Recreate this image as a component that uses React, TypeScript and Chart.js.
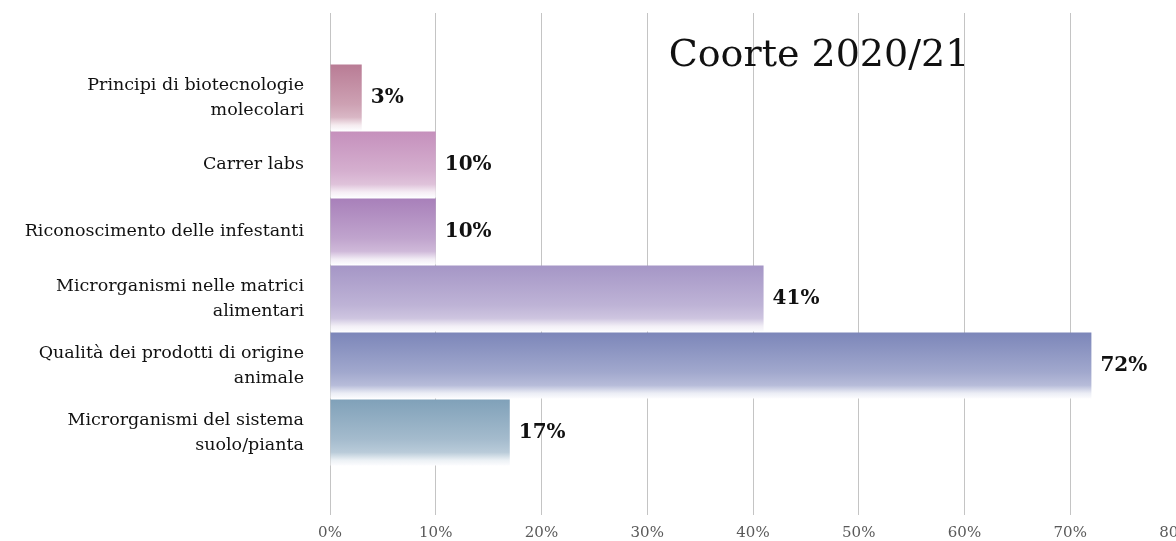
import React, { useEffect, useRef } from "react";
import { Chart, registerables } from "chart.js";

Chart.register(...registerables);

const categories: string[][] = [
  ["Principi di biotecnologie", "molecolari"],
  ["Carrer labs"],
  ["Riconoscimento delle infestanti"],
  ["Microrganismi nelle matrici", "alimentari"],
  ["Qualità dei prodotti di origine", "animale"],
  ["Microrganismi del sistema", "suolo/pianta"],
];
const values: number[] = [3, 10, 10, 41, 72, 17];
const barColors: string[] = ["#b97c95", "#c590bc", "#a880ba", "#a596c6", "#7c86b9", "#80a1b9"];
const titleText = "Coorte 2020/21";
const xMin = 0;
const xMax = 80;
const xStep = 10;

const SERIF = "'DejaVu Serif', serif";
const GRID = "#c4c4c4";

function hexToRgb(h: string) {
  const n = parseInt(h.slice(1), 16);
  return [(n >> 16) & 255, (n >> 8) & 255, n & 255];
}
function mix(h: string, t: number) {
  const [r, g, b] = hexToRgb(h);
  const m = (c: number) => Math.round(c + (255 - c) * t);
  return `rgb(${m(r)},${m(g)},${m(b)})`;
}

export default function App() {
  const ref = useRef<HTMLCanvasElement | null>(null);
  useEffect(() => {
    document.body.style.margin = "0";
    const canvas = ref.current!;
    const gridExtend = {
      id: "gridExtend",
      beforeDatasetsDraw(chart: any) {
        const ctx = chart.ctx;
        const xs = chart.scales.x;
        ctx.save();
        ctx.strokeStyle = GRID;
        ctx.lineWidth = 1;
        xs.ticks.forEach((t: any) => {
          const raw = xs.getPixelForValue(t.value);
          const px = Math.round(raw - 0.5) + 0.5;
          ctx.beginPath();
          ctx.moveTo(px, 13);
          ctx.lineTo(px, chart.chartArea.top + 1);
          ctx.stroke();
        });
        ctx.restore();
      },
    };
    const labelPlugin = {
      id: "valueLabels",
      afterDatasetsDraw(chart: any) {
        const ctx = chart.ctx;
        const meta = chart.getDatasetMeta(0);
        ctx.save();
        ctx.font = `bold 20px ${SERIF}`;
        ctx.fillStyle = "#111";
        ctx.textAlign = "left";
        ctx.textBaseline = "middle";
        meta.data.forEach((bar: any, i: number) => {
          ctx.fillText(values[i] + "%", bar.x + 9, bar.y);
        });
        ctx.restore();
      },
    };
    const titlePlugin = {
      id: "innerTitle",
      afterDraw(chart: any) {
        const ctx = chart.ctx;
        ctx.save();
        ctx.font = `38px ${SERIF}`;
        ctx.fillStyle = "#111";
        ctx.textAlign = "center";
        ctx.textBaseline = "middle";
        ctx.fillText(titleText, 819, 56);
        ctx.restore();
      },
    };
    const chart = new Chart(canvas, {
      type: "bar",
      data: {
        labels: categories,
        datasets: [
          {
            data: values,
            categoryPercentage: 1,
            barPercentage: 0.985,
            borderWidth: 0,
            backgroundColor: (c: any) => {
              const i = c.dataIndex;
              const base = barColors[i % barColors.length];
              const ch = c.chart;
              if (!ch.chartArea || i === undefined) return base;
              const yc = ch.scales.y.getPixelForValue(i);
              const g = ch.ctx.createLinearGradient(0, yc - 33, 0, yc + 33);
              g.addColorStop(0, base);
              g.addColorStop(0.6, mix(base, 0.28));
              g.addColorStop(0.8, mix(base, 0.45));
              g.addColorStop(0.92, mix(base, 0.85));
              g.addColorStop(1, "rgb(252,252,254)");
              return g;
            },
          },
        ],
      },
      options: {
        indexAxis: "y",
        responsive: false,
        animation: false,
        layout: { padding: { top: 64, right: 30, left: 0, bottom: 0 } },
        plugins: { legend: { display: false }, tooltip: { enabled: false } },
        scales: {
          x: {
            type: "linear",
            min: xMin,
            max: xMax,
            border: { display: false },
            grid: { color: GRID, lineWidth: 1, tickLength: 49, drawTicks: true },
            ticks: {
              stepSize: xStep,
              padding: 9,
              color: "#595959",
              font: { family: SERIF, size: 15 },
              callback: (v: any) => v + "%",
            },
            afterFit: (s: any) => {
              s.height = 75;
            },
          },
          y: {
            type: "category",
            offset: true,
            border: { display: false },
            grid: { display: false, drawTicks: false },
            ticks: {
              padding: 26,
              color: "#111",
              font: { family: SERIF, size: 17.5, lineHeight: 1.43 },
            },
            afterFit: (s: any) => {
              s.width = 330;
            },
          },
        },
      } as any,
      plugins: [gridExtend, labelPlugin, titlePlugin],
    });
    return () => chart.destroy();
  }, []);
  return (
    <div style={{ width: 1176, height: 541, overflow: "hidden", position: "relative", background: "#fff" }}>
      <canvas ref={ref} width={1206} height={541} style={{ display: "block" }} />
    </div>
  );
}
